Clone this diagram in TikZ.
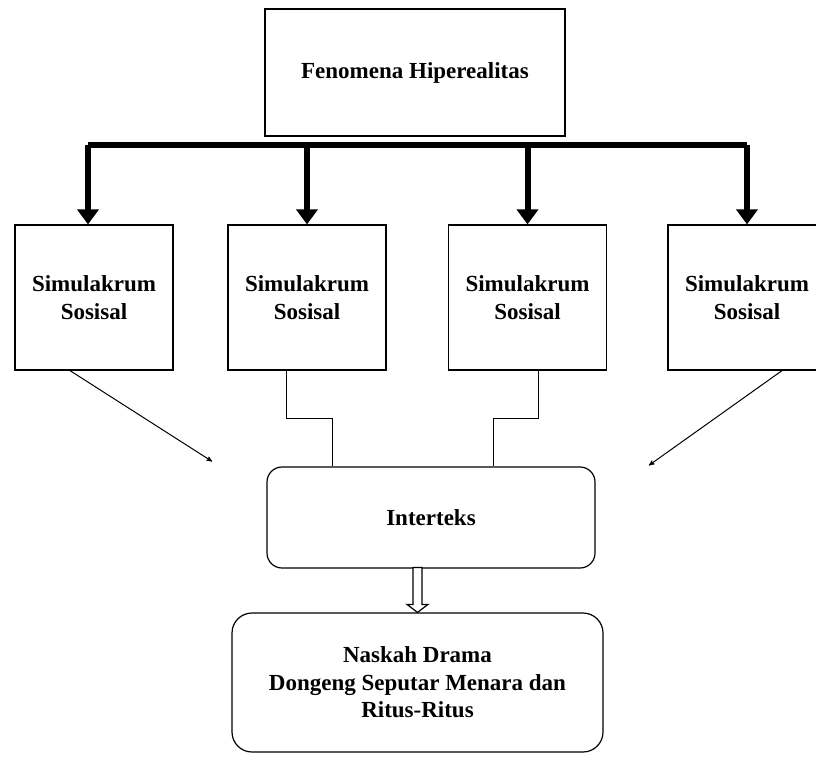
\documentclass[tikz,border=0pt]{standalone}
\usepackage{fontspec}
\setmainfont{Liberation Serif}
\usetikzlibrary{positioning, arrows, arrows.meta}

\begin{document}
\begin{tikzpicture}[x=1pt,y=-1pt,>=stealth',line width=1pt,
                    every node/.style={font=\bfseries\fontsize{23}{27.5}\selectfont,
                                       align=center,inner sep=0pt},
                    kotak/.style={draw,line width=1.2pt,minimum width=158pt,minimum height=145pt},
                    bulat/.style={draw,line width=1.2pt,rounded corners=15pt},
                    panah/.style={line width=6pt,-{Triangle[length=15pt,width=21pt]}},
                    tipis/.style={->,shorten >=1pt},
                    kosong/.style={line width=1.2pt,fill=white}]
                \useasboundingbox (0,0) rectangle (816,756);
                \node[draw,line width=1.2pt,minimum width=300pt,minimum height=127pt] (feno) at (415,72.5) {Fenomena Hiperealitas};
                \node[kotak] (sim1) at (94,297.5) {Simulakrum\\Sosisal};
                \node[kotak] (sim2) at (307,297.5) {Simulakrum\\Sosisal};
                \node[kotak] (sim3) at (527.5,297.5) {Simulakrum\\Sosisal};
                \node[kotak] (sim4) at (747,297.5) {Simulakrum\\Sosisal};
                \node[bulat,minimum width=328pt,minimum height=101pt] (inter) at (431,517.5) {Interteks};
                \node[bulat,rounded corners=20pt,minimum width=371pt,minimum height=139pt] (naskah) at (417.5,682.5)
                    {Naskah Drama\\Dongeng Seputar Menara dan\\Ritus-Ritus};
                \coordinate (bar) at (0,145);
                \coordinate (ujungkiri) at (213,462);
                \coordinate (ujungkanan) at (648,466);

                % garis tebal dan panah ke simulakrum
                \draw[line width=6pt] ([xshift=-6pt]sim1.north |- bar) -- (sim4.north |- bar);
                \draw[panah] ([xshift=-6pt]sim1.north |- bar) -- ([xshift=-6pt]sim1.north);
                \draw[panah] (sim2.north |- bar) -- (sim2.north);
                \draw[panah] (sim3.north |- bar) -- (sim3.north);
                \draw[panah] (sim4.north |- bar) -- (sim4.north);

                % ke interteks
                \draw[tipis] ([xshift=-24pt]sim1.south) -- (ujungkiri);
                \draw[tipis] ([xshift=35pt]sim4.south) -- (ujungkanan);
                \draw ([xshift=-21pt]sim2.south) -- ++(0,48) -| ([xshift=-99pt]inter.north);
                \draw ([xshift=10.5pt]sim3.south) -- ++(0,48) -| ([xshift=62pt]inter.north);

                % panah kosong ke naskah
                \draw[kosong] (naskah.north) -- ++(-10.5,-8) -- ++(6,0) -- ++(0,-37)
                    -- ++(9,0) -- ++(0,37) -- ++(6,0) -- cycle;
            \end{tikzpicture}
\end{document}
